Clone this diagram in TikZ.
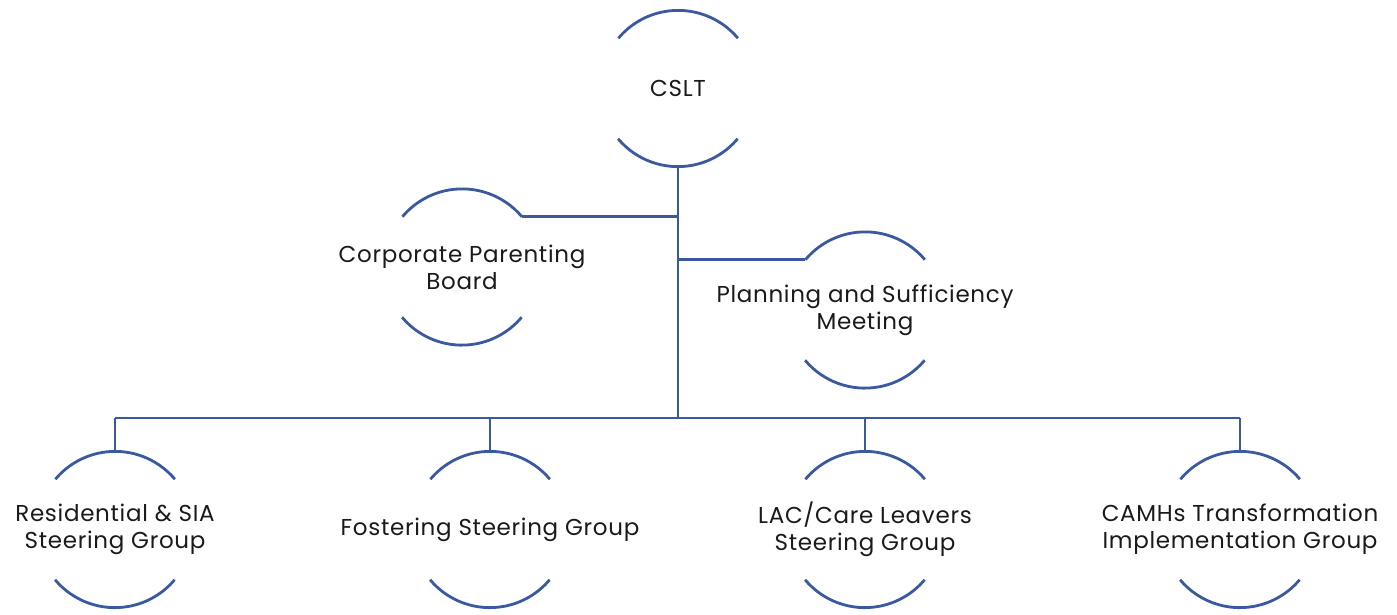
\documentclass[tikz,border=0pt]{standalone}
\usepackage{fontspec}
\setmainfont{Poppins}[LetterSpace=3]
\usepackage{tikz}
\usetikzlibrary{positioning, calc}
\definecolor{ringblue}{RGB}{59,89,158}
\definecolor{inkgrey}{RGB}{26,26,26}

\begin{document}
\begin{tikzpicture}[x=1pt, y=1pt,
		ring/.style={circle, minimum size=156pt, inner sep=0pt},
		lbl/.style={align=center, text=inkgrey, font=\fontsize{23}{27}\selectfont},
		wire/.style={draw=ringblue, line width=2.8pt}]
	\useasboundingbox (0,0) rectangle (1397,-614);
		% rings
		\node[ring] (cslt) at (678,-88.5) {};
		\node[ring] (cpb) at (462,-267) {};
		\node[ring] (psm) at (865,-310) {};
		\node[ring] (res) at (115,-529.5) {};
		\node[ring] (fos) at (490,-529.5) {};
		\node[ring] (lac) at (865,-529.5) {};
		\node[ring] (camhs) at (1240,-529.5) {};
		% labels
		\node[lbl] (cslt-t) at (cslt) {CSLT};
		\node[lbl] (cpb-t) at (cpb) {Corporate Parenting\\Board};
		\node[lbl] (psm-t) at (psm) {Planning and Sufficiency\\Meeting};
		\node[lbl] (res-t) at (res) {Residential \& SIA\\Steering Group};
		\node[lbl] (fos-t) at (fos) {Fostering Steering Group};
		\node[lbl] (lac-t) at (lac) {LAC/Care Leavers\\Steering Group};
		\node[lbl] (camhs-t) at (camhs) {CAMHs Transformation\\Implementation Group};
		% top and bottom arcs only
		\foreach \n in {cslt,cpb,psm,res,fos,lac,camhs} {
			\draw[wire] (\n.40) arc[start angle=40, end angle=140, radius=78pt];
			\draw[wire] (\n.220) arc[start angle=220, end angle=320, radius=78pt];
		}
		% connectors
		\coordinate (bus) at (678,-418);
		\draw[wire] (cslt.south) -- (bus);
		\draw[wire] (cpb.40) -- (cpb.40 -| cslt.south);
		\draw[wire] (psm.140) -- (psm.140 -| cslt.south);
		\draw[wire] (res.north |- bus) -- (camhs.north |- bus);
		\foreach \n in {res,fos,lac,camhs}
			\draw[wire] (\n.north) -- (\n.north |- bus);
	\end{tikzpicture}
\end{document}
